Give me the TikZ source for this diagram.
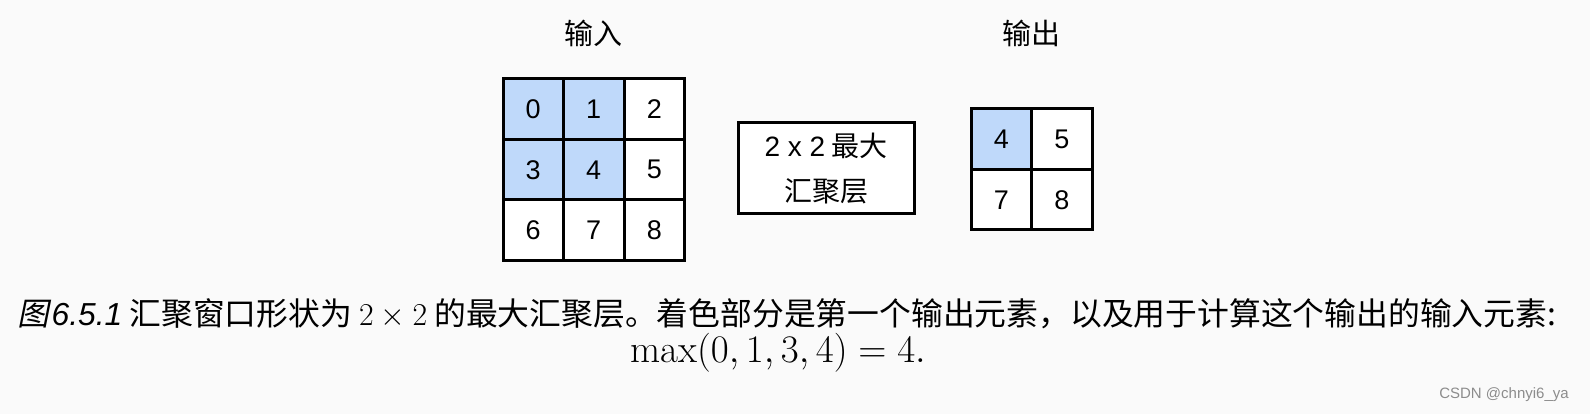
\RequirePackage{fix-cm}
\documentclass[tikz,border=0pt]{standalone}
\usepackage{fontspec}
\setsansfont{Liberation Sans}
\newfontfamily\cjk{Noto Sans CJK SC}
\newfontfamily\cjkslant[FakeSlant=0.2]{Noto Sans CJK SC}
\definecolor{poolblue}{RGB}{191,217,250}
\definecolor{pagebg}{RGB}{250,250,250}
\begin{document}
\begin{tikzpicture}[x=1pt,y=1pt,
	cell/.style={draw,line width=3pt,fill=white,minimum size=60.5pt,inner sep=0pt,font=\fontsize{27}{30}\selectfont\sffamily},
	hot/.style={cell,fill=poolblue},
	gridtitle/.style={font=\fontsize{29}{32}\selectfont\cjk}]
	%background
	\fill[pagebg] (0,0) rectangle (1590,414);
	\useasboundingbox (0,0) rectangle (1590,414);

	%input grid
	\foreach \v/\sty in {0/hot,1/hot,2/cell,3/hot,4/hot,5/cell,6/cell,7/cell,8/cell}{
		\pgfmathtruncatemacro\col{mod(\v,3)}
		\pgfmathtruncatemacro\row{div(\v,3)}
		\node[\sty] (in\v) at ({533.25+60.5*\col},{304.75-60.5*\row}) {\v};
	}

	%pooling box
	\node[draw,line width=3pt,fill=white,minimum width=176pt,minimum height=91pt,align=center,
		font=\fontsize{28}{45}\selectfont\cjk] (pool) at (826,245.5) {{\sffamily 2 x 2} 最大\\汇聚层};

	%output grid
	\node[hot] (out0) at (1001.25,274.75) {4};
	\node[cell] (out1) at (1061.75,274.75) {5};
	\node[cell] (out2) at (1001.25,214.25) {7};
	\node[cell] (out3) at (1061.75,214.25) {8};

	%labels
	\node[gridtitle] (inlabel) at (593.75,381) {输入};
	\node[gridtitle] (outlabel) at (1031.5,381) {输出};

	%caption
	\node[font=\fontsize{31.8}{36}\selectfont\cjk] (cap1) at (787,100)
		{{\cjkslant 图}\kern2pt{\sffamily\itshape 6.5.1} 汇聚窗口形状为 $2\times 2$ 的最大汇聚层。着色部分是第一个输出元素，以及用于计算这个输出的输入元素:};
	\node[font=\fontsize{39}{43}\selectfont] (cap2) at (778,61) {$\max(0,1,3,4)=4.$};

	%watermark
	\node[text=black!45,font=\fontsize{15}{17}\selectfont\sffamily] (mark) at (1504,19) {CSDN @chnyi6\_ya};
\end{tikzpicture}
\end{document}
